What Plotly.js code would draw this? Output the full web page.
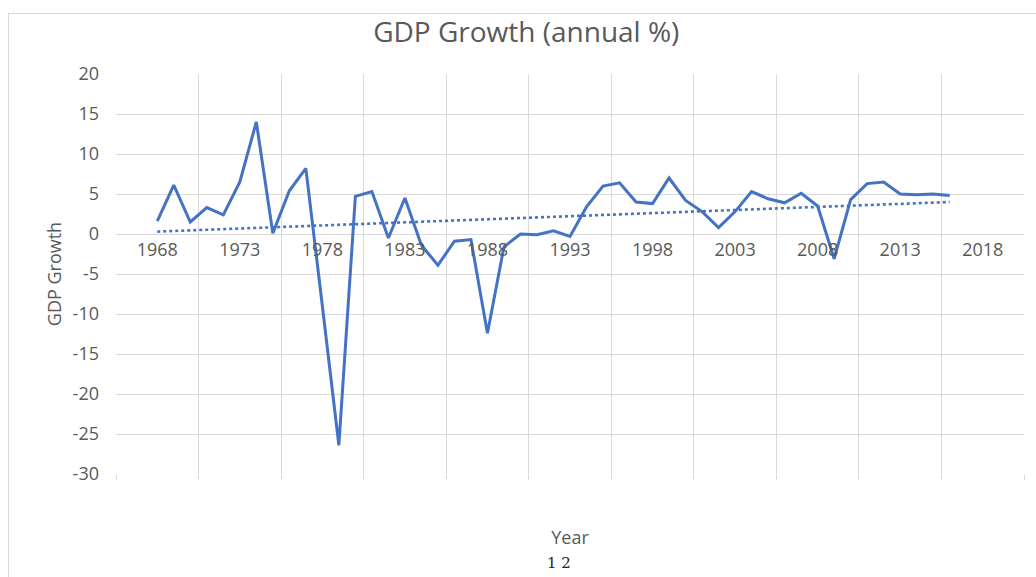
<!DOCTYPE html>
<html>
<head>
<meta charset="utf-8">
<script src="https://cdn.plot.ly/plotly-3.0.1.min.js"></script>
<style>
  html, body { margin: 0; padding: 0; background: #ffffff; }
  #frame { position: absolute; left: 8px; top: 13px; width: 1100px; height: 700px; border: 1px solid #d9d9d9; }
  #chart { position: absolute; left: 0; top: 0; width: 1036px; height: 577px; }
</style>
</head>
<body>
<div id="frame"></div>
<div id="chart"></div>
<script>
// Data
const years = [1968,1969,1970,1971,1972,1973,1974,1975,1976,1977,
               1978,1979,1980,1981,1982,1983,1984,1985,1986,1987,
               1988,1989,1990,1991,1992,1993,1994,1995,1996,1997,
               1998,1999,2000,2001,2002,2003,2004,2005,2006,2007,
               2008,2009,2010,2011,2012,2013,2014,2015,2016];
const gdpGrowth = [1.6,6.1,1.5,3.3,2.4,6.5,14.0,0.1,5.4,8.2,
                   -9.0,-26.4,4.7,5.3,-0.5,4.5,-1.4,-3.9,-0.9,-0.7,
                   -12.4,-1.6,0.0,-0.1,0.4,-0.3,3.4,6.0,6.4,4.0,
                   3.8,7.0,4.2,2.8,0.8,2.8,5.3,4.4,3.9,5.1,
                   3.5,-3.1,4.3,6.3,6.5,5.0,4.9,5.0,4.8];
// Linear trendline end points
const trendYears = [1968, 2016];
const trendValues = [0.3, 4.0];
const xTickLabels = ['1968','1973','1978','1983','1988','1993','1998','2003','2008','2013','2018'];
const xTickVals = [1968,1973,1978,1983,1988,1993,1998,2003,2008,2013,2018];
const yTickVals = [-30,-25,-20,-15,-10,-5,0,5,10,15,20];
const yTickLabels = ['-30','-25','-20','-15','-10','-5','0','5','10','15','20'];

const blue = '#4472C4';
const grey = '#595959';
const grid = '#d9d9d9';

const traces = [
  {
    x: trendYears, y: trendValues, type: 'scatter', mode: 'lines',
    line: { color: blue, width: 2.6, dash: 'dot' }, hoverinfo: 'skip', showlegend: false
  },
  {
    x: years, y: gdpGrowth, type: 'scatter', mode: 'lines', name: 'GDP Growth',
    line: { color: blue, width: 3 }, showlegend: false
  },
  {
    x: [xTickVals[0]], y: [null], xaxis: 'x2', type: 'scatter', mode: 'lines',
    showlegend: false, hoverinfo: 'skip'
  }
];

const layout = {
  width: 1036, height: 577,
  paper_bgcolor: 'rgba(0,0,0,0)', plot_bgcolor: 'rgba(0,0,0,0)',
  margin: { l: 116, r: 12, t: 74, b: 103 },
  font: { family: '"Open Sans", sans-serif', color: grey },
  title: {
    text: 'GDP Growth (annual %)',
    font: { family: '"Open Sans", sans-serif', size: 28, color: grey },
    x: 0.508, xanchor: 'center', y: 0.945, yanchor: 'middle'
  },
  xaxis: {
    range: [1965.5, 2020.5], tick0: 1965.5, dtick: 5, tickmode: 'linear',
    showgrid: true, gridcolor: grid, gridwidth: 1,
    showticklabels: false, ticks: 'outside', ticklen: 5, tickcolor: grid,
    zeroline: false, showline: false,
    title: { text: 'Year', font: { size: 18, color: grey }, standoff: 52 }
  },
  xaxis2: {
    overlaying: 'x', matches: 'x', anchor: 'free', position: 0.6, side: 'bottom',
    tickmode: 'array', tickvals: xTickVals, ticktext: xTickLabels,
    showgrid: false, zeroline: false, showline: false, ticks: '',
    tickfont: { size: 18, color: grey }, ticklabelstandoff: 3
  },
  yaxis: {
    range: [-30, 20], tickmode: 'array', tickvals: yTickVals, ticktext: yTickLabels,
    showgrid: true, gridcolor: grid, gridwidth: 1, zeroline: false, showline: false,
    ticks: '', tickfont: { size: 18, color: grey }, ticklabelstandoff: 16,
    title: { text: 'GDP Growth', font: { size: 18, color: grey }, standoff: 6 }
  },
  annotations: [
    { text: '1 2', xref: 'paper', yref: 'paper', x: 0.488, y: -0.197, xanchor: 'center', yanchor: 'top',
      borderpad: 0, showarrow: false, font: { family: '"DejaVu Serif", serif', size: 15, color: '#222222' } }
  ]
};

Plotly.newPlot('chart', traces, layout, { displayModeBar: false, staticPlot: true });
</script>
</body>
</html>
